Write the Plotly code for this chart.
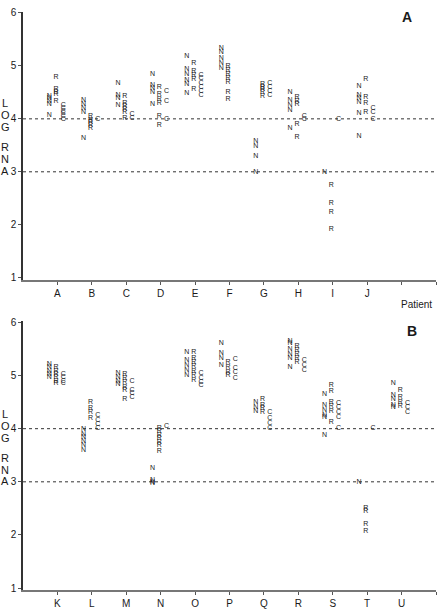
import plotly.graph_objects as go

# ---------------- data ----------------
patients_a = ["A", "B", "C", "D", "E", "F", "G", "H", "I", "J"]
n_a = [
    [4.07, 4.28, 4.33, 4.38, 4.43],
    [3.63, 4.13, 4.20, 4.28, 4.35],
    [4.26, 4.38, 4.44, 4.67],
    [4.28, 4.50, 4.57, 4.63, 4.84],
    [4.48, 4.65, 4.72, 4.84, 4.93, 5.18],
    [4.96, 5.05, 5.15, 5.25, 5.33],
    [3.00, 3.30, 3.48, 3.57],
    [3.82, 4.17, 4.25, 4.35, 4.50],
    [3.00],
    [3.68, 4.11, 4.32, 4.38, 4.44, 4.61],
]
r_a = [
    [4.33, 4.47, 4.50, 4.55, 4.78],
    [3.83, 3.88, 3.93, 3.98, 4.05],
    [4.02, 4.13, 4.18, 4.24, 4.30, 4.43],
    [3.87, 4.04, 4.30, 4.37, 4.46, 4.59],
    [4.55, 4.75, 4.83, 4.90, 5.05],
    [4.37, 4.50, 4.70, 4.77, 4.85, 4.92, 5.00],
    [4.42, 4.50, 4.55, 4.60, 4.65],
    [3.66, 3.90, 4.28, 4.33, 4.40],
    [1.92, 2.23, 2.40, 2.74],
    [4.12, 4.30, 4.40, 4.74],
]
c_a = [
    [4.00, 4.05, 4.10, 4.15, 4.20, 4.25],
    [4.00],
    [4.02, 4.08],
    [4.00, 4.33, 4.53],
    [4.45, 4.52, 4.60, 4.68, 4.76, 4.83],
    [],
    [4.45, 4.52, 4.60, 4.68],
    [4.00, 4.05],
    [4.00],
    [4.00, 4.12, 4.20],
]

patients_b = ["K", "L", "M", "N", "O", "P", "Q", "R", "S", "T", "U"]
n_b = [
    [4.97, 5.02, 5.08, 5.15, 5.22],
    [3.60, 3.68, 3.76, 3.83, 3.90, 3.98],
    [4.83, 4.90, 4.97, 5.04],
    [2.98, 3.00, 3.03, 3.25],
    [5.00, 5.10, 5.20, 5.28, 5.43],
    [5.20, 5.33, 5.42, 5.60],
    [4.32, 4.40, 4.50],
    [5.15, 5.33, 5.40, 5.50, 5.60, 5.65],
    [3.87, 4.22, 4.25, 4.35, 4.45, 4.65],
    [3.00],
    [4.40, 4.45, 4.55, 4.63, 4.85],
]
r_b = [
    [4.85, 4.90, 4.96, 5.02, 5.08, 5.15],
    [4.20, 4.30, 4.38, 4.50],
    [4.56, 4.72, 4.78, 4.87, 4.95, 5.03],
    [3.58, 3.68, 3.75, 3.82, 3.88, 3.95, 4.00],
    [4.92, 5.00, 5.08, 5.17, 5.25, 5.33, 5.43],
    [5.00, 5.07, 5.15, 5.25],
    [4.30, 4.38, 4.45, 4.55],
    [5.25, 5.33, 5.40, 5.48, 5.56],
    [4.12, 4.32, 4.42, 4.50, 4.70, 4.82],
    [2.07, 2.20, 2.45, 2.50],
    [4.42, 4.50, 4.60, 4.73],
]
c_b = [
    [4.85, 4.90, 4.97, 5.03],
    [4.00, 4.08, 4.15, 4.25],
    [4.60, 4.66, 4.72, 4.90],
    [4.05],
    [4.82, 4.88, 4.95, 5.04],
    [4.95, 5.06, 5.13, 5.30],
    [4.00, 4.10, 4.20, 4.30],
    [5.10, 5.20, 5.28],
    [4.00, 4.22, 4.30, 4.40, 4.48],
    [4.00],
    [4.30, 4.40, 4.48],
]

y_ticks = [1, 2, 3, 4, 5, 6]
ref_levels = [3, 4]
group_letters = ["N", "R", "C"]
group_offsets = [-0.24, -0.04, 0.17]

# ---------------- figure ----------------
fig = go.Figure()
FONT = "Liberation Sans, Arial, sans-serif"
INK = "#1a1a1a"


def add_panel(patients, groups, xa, ya):
    for letter, off, vals in zip(group_letters, group_offsets, groups):
        xs, ys = [], []
        for i, v in enumerate(vals):
            for y in v:
                xs.append(i + 1 + off)
                ys.append(y)
        fig.add_trace(go.Scatter(
            x=xs, y=ys, mode="text", text=[letter] * len(xs),
            textposition="middle center",
            textfont=dict(family=FONT, size=7, color=INK),
            xaxis=xa, yaxis=ya, showlegend=False, hoverinfo="skip"))


add_panel(patients_a, [n_a, r_a, c_a], "x", "y")
add_panel(patients_b, [n_b, r_b, c_b], "x2", "y2")

xdom = [23 / 441, 436 / 441]
ydom_a = [1 - 279 / 613, 1 - 8 / 613]
ydom_b = [1 - 593 / 613, 1 - 321 / 613]

def xaxis_cfg(patients, anchor):
    return dict(
        domain=xdom, range=[0, 12], anchor=anchor,
        tickmode="array", tickvals=list(range(1, 13)),
        ticktext=patients + [""] * (12 - len(patients)),
        ticks="outside", ticklen=3, tickcolor="#555", tickwidth=1,
        showline=True, linecolor="#777", linewidth=1.5,
        showgrid=False, zeroline=False,
        tickfont=dict(family=FONT, size=10, color=INK))

def yaxis_cfg(dom, anchor):
    return dict(
        domain=dom, range=[0.96, 6.02], anchor=anchor,
        tickmode="array", tickvals=y_ticks,
        ticks="outside", ticklen=3, tickcolor="#555", tickwidth=1,
        showline=True, linecolor="#333", linewidth=1.5,
        showgrid=False, zeroline=False,
        tickfont=dict(family=FONT, size=10, color=INK))

fig.update_layout(
    width=441, height=613,
    margin=dict(l=0, r=0, t=0, b=0),
    paper_bgcolor="white", plot_bgcolor="white",
    xaxis=xaxis_cfg(patients_a, "y"),
    yaxis=yaxis_cfg(ydom_a, "x"),
    xaxis2=xaxis_cfg(patients_b, "y2"),
    yaxis2=yaxis_cfg(ydom_b, "x2"),
)

for xr, yr in [("x", "y"), ("x2", "y2")]:
    for lv in ref_levels:
        fig.add_shape(type="line", xref=xr, yref=yr, x0=0, x1=12, y0=lv, y1=lv,
                      line=dict(color="#333", width=1, dash="dot"), layer="below")

annots = []
def ann(text, x, y, size=10, bold=False):
    annots.append(dict(text=f"<b>{text}</b>" if bold else text,
                       x=x / 441, y=1 - y / 613, xref="paper", yref="paper",
                       showarrow=False, xanchor="center", yanchor="middle",
                       font=dict(family=FONT, size=size, color=INK)))

for letter, ya, yb in zip("LOGRNA", [100, 112, 124, 145, 157, 169],
                          [415, 427, 439, 459, 471, 483]):
    ann(letter, 5, ya, size=11)
    ann(letter, 5, yb, size=11)
ann("Patient", 416, 304, size=10)
ann("A", 407, 13, size=14, bold=True)
ann("B", 412, 331, size=14, bold=True)
fig.update_layout(annotations=annots)

fig.write_html("out.html")
